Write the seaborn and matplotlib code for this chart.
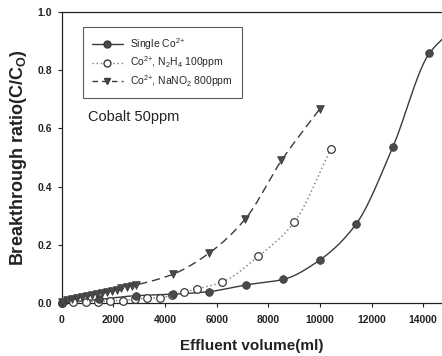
import numpy as np
import pandas as pd
import matplotlib
matplotlib.use("Agg")
import matplotlib.pyplot as plt
import seaborn as sns
from matplotlib.lines import Line2D

# Data
single_x = [0, 1430, 2860, 4290, 5700, 7130, 8580, 10000, 11400, 12820, 14240, 15700]
single_y = [0.0, 0.012, 0.025, 0.03, 0.039, 0.062, 0.081, 0.148, 0.271, 0.535, 0.858, 0.975]

n2h4_x = [0, 450, 930, 1410, 1860, 2350, 2830, 3310, 3800, 4280, 4740, 5220, 6190, 7610, 9000, 10430]
n2h4_y = [0.0, 0.003, 0.005, 0.005, 0.007, 0.008, 0.013, 0.016, 0.018, 0.027, 0.037, 0.048, 0.071, 0.16, 0.277, 0.531]

nano2_x = [0, 190, 390, 580, 770, 960, 1160, 1350, 1540, 1740, 1930, 2120, 2310, 2510, 2700, 2890,
           4310, 5700, 7110, 8510, 10000]
nano2_y = [0.005, 0.01, 0.014, 0.018, 0.021, 0.025, 0.028, 0.031, 0.035, 0.038, 0.042, 0.046, 0.05,
           0.054, 0.058, 0.062, 0.099, 0.171, 0.289, 0.49, 0.668]

labels = ["Single Co$^{2{+}}$", "Co$^{2{+}}$, N$_2$H$_4$ 100ppm", "Co$^{2{+}}$, NaNO$_2$ 800ppm"]


def smooth(x, y, n=300):
    # monotone cubic (Fritsch-Carlson) curve through the points, for drawing the line only
    x = np.asarray(x, float)
    y = np.asarray(y, float)
    h = np.diff(x)
    d = np.diff(y) / h
    m = np.zeros_like(y)
    m[0], m[-1] = d[0], d[-1]
    for i in range(1, len(y) - 1):
        if d[i - 1] * d[i] <= 0:
            m[i] = 0
        else:
            w1 = 2 * h[i] + h[i - 1]
            w2 = h[i] + 2 * h[i - 1]
            m[i] = (w1 + w2) / (w1 / d[i - 1] + w2 / d[i])
    xs = np.linspace(x[0], x[-1], n)
    k = np.clip(np.searchsorted(x, xs) - 1, 0, len(x) - 2)
    t = (xs - x[k]) / h[k]
    h00 = 2 * t**3 - 3 * t**2 + 1
    h10 = t**3 - 2 * t**2 + t
    h01 = -2 * t**3 + 3 * t**2
    h11 = t**3 - t**2
    ys = h00 * y[k] + h10 * h[k] * m[k] + h01 * y[k + 1] + h11 * h[k] * m[k + 1]
    return xs, ys


sns.set_style("ticks")
plt.rcParams["font.family"] = ["Liberation Sans", "DejaVu Sans"]
plt.rcParams["mathtext.default"] = "regular"

dark = "#3a3a3a"

fig = plt.figure(figsize=(4.42, 3.56), dpi=100)
ax = fig.add_axes([0.140, 0.149, 0.86, 0.817])

# Lines
sx, sy = smooth(single_x, single_y)
sns.lineplot(x=sx, y=sy, ax=ax, color=dark, lw=1.0, linestyle="-", sort=False)
nx, ny = smooth(n2h4_x, n2h4_y)
sns.lineplot(x=nx, y=ny, ax=ax, color="#777777", lw=1.0, linestyle=(0, (1, 2)), sort=False)
tx, ty = smooth(nano2_x, nano2_y)
sns.lineplot(x=tx, y=ty, ax=ax, color=dark, lw=1.0, linestyle=(0, (6, 3.5)), sort=False)

# Markers
sns.scatterplot(x=n2h4_x, y=n2h4_y, ax=ax, marker="o", s=30, facecolor="white",
                edgecolor=dark, linewidth=0.9, zorder=3, clip_on=False)
sns.scatterplot(x=single_x, y=single_y, ax=ax, marker="o", s=30, color="#4a4a4a",
                edgecolor=dark, linewidth=0.6, zorder=4, clip_on=False)
sns.scatterplot(x=nano2_x, y=nano2_y, ax=ax, marker="v", s=30, color="#4a4a4a",
                edgecolor=dark, linewidth=0.6, zorder=4, clip_on=False)

ax.set_xlim(0, 14730)
ax.set_ylim(0, 1.0)
ax.set_xticks(np.arange(0, 14001, 2000))
ax.set_yticks(np.arange(0, 1.01, 0.2))
ax.set_yticklabels([f"{v:.1f}" for v in np.arange(0, 1.01, 0.2)])
ax.tick_params(labelsize=7.5, length=3, width=0.8, colors="#222222")
ax.tick_params(axis="x", pad=6)
ax.tick_params(axis="y", pad=4)
for lab in ax.get_xticklabels() + ax.get_yticklabels():
    lab.set_fontweight("bold")
ax.spines["right"].set_visible(False)
for s in ["left", "bottom", "top"]:
    ax.spines[s].set_linewidth(0.9)
    ax.spines[s].set_color("#222222")

ax.set_xlabel("Effluent volume(ml)", fontsize=11, fontweight="bold", color="#222222", labelpad=10)
ax.set_ylabel("Breakthrough ratio(C/C$_O$)", fontsize=13, fontweight="bold", color="#222222", labelpad=6)

ax.text(0.068, 0.64, "Cobalt 50ppm", transform=ax.transAxes, fontsize=10.5, color="#222222",
        va="center")

handles = [
    Line2D([], [], color=dark, lw=1.0, marker="o", markersize=5, markerfacecolor="#4a4a4a"),
    Line2D([], [], color="#777777", lw=1.0, linestyle=(0, (1, 2)), marker="o", markersize=5,
           markerfacecolor="white", markeredgecolor=dark),
    Line2D([], [], color=dark, lw=1.0, linestyle=(0, (4, 3)), marker="v", markersize=5,
           markerfacecolor="#4a4a4a"),
]
leg = ax.legend(handles, labels, loc="upper left", bbox_to_anchor=(0.055, 0.948),
                fontsize=7.5, frameon=True, fancybox=False, edgecolor="#333333",
                handlelength=3.0, borderpad=0.85, labelspacing=0.25, handletextpad=0.7,
                borderaxespad=0)
leg.get_frame().set_linewidth(0.8)

fig.savefig("out.png", dpi=100)
